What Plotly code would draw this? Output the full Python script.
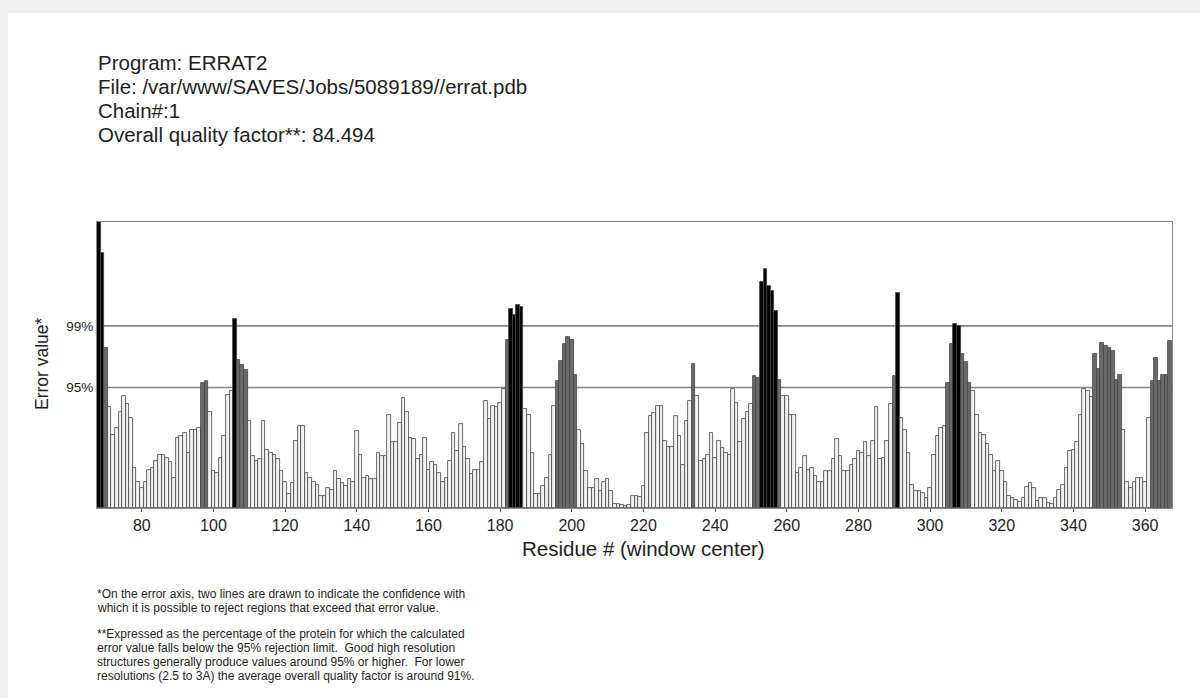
import plotly.graph_objects as go

# ---------------- data ----------------
first_residue = 68
error_values = [
    # 68-77
    27.0, 24.1, 15.1, 9.5, 6.9, 7.6, 9.1, 10.6, 9.8, 8.5,
    # 78-87
    3.8, 2.5, 1.9, 2.5, 3.6, 3.8, 4.4, 5.0, 5.0, 4.7,
    # 88-97
    4.3, 2.8, 6.6, 6.8, 7.1, 5.2, 7.4, 7.4, 7.6, 11.8,
    # 98-107
    12.0, 9.1, 3.5, 3.3, 4.7, 6.8, 10.7, 11.0, 17.8, 14.0,
    # 108-117
    13.5, 13.0, 8.2, 4.9, 4.4, 4.6, 8.2, 5.5, 5.2, 5.0,
    # 118-127
    4.6, 3.5, 2.5, 1.3, 2.4, 6.3, 7.7, 7.7, 3.3, 2.8,
    # 128-137
    2.5, 2.2, 1.1, 1.1, 1.9, 1.7, 3.5, 2.7, 2.4, 2.1,
    # 138-147
    2.7, 2.5, 7.3, 5.0, 2.8, 3.0, 2.7, 2.7, 5.2, 4.9,
    # 148-157
    4.9, 8.8, 6.2, 6.2, 8.0, 10.4, 9.1, 6.6, 6.5, 4.6,
    # 158-167
    5.0, 6.6, 3.6, 4.3, 4.1, 3.3, 2.5, 2.8, 4.4, 7.1,
    # 168-177
    5.4, 7.9, 5.8, 4.6, 3.2, 3.6, 3.6, 4.3, 10.1, 8.4,
    # 178-187
    9.6, 9.5, 9.9, 11.2, 15.9, 18.8, 18.2, 19.2, 19.0, 9.3,
    # 188-197
    8.8, 5.2, 1.3, 1.3, 2.1, 2.8, 5.0, 9.6, 12.0, 13.9,
    # 198-207
    15.5, 16.1, 15.9, 12.6, 7.4, 6.0, 3.5, 1.9, 1.9, 2.7,
    # 208-217
    1.6, 2.5, 2.7, 1.6, 0.4, 0.4, 0.3, 0.2, 0.3, 1.1,
    # 218-227
    1.1, 1.0, 2.1, 7.1, 8.7, 9.0, 9.6, 9.6, 6.3, 5.8,
    # 228-237
    5.8, 8.7, 6.8, 4.1, 8.2, 10.1, 13.6, 10.6, 4.4, 4.6,
    # 238-247
    5.0, 7.1, 4.7, 6.3, 5.7, 5.2, 5.0, 11.2, 9.9, 6.2,
    # 248-257
    8.4, 9.1, 9.8, 12.5, 12.3, 21.3, 22.6, 21.0, 20.5, 18.6,
    # 258-267
    12.1, 10.6, 10.6, 8.8, 8.8, 3.3, 3.8, 4.9, 3.6, 3.8,
    # 268-277
    3.0, 2.5, 2.5, 3.5, 3.5, 4.6, 6.5, 4.9, 3.5, 3.5,
    # 278-287
    4.1, 4.6, 5.4, 5.2, 6.2, 4.9, 6.3, 9.5, 4.6, 4.7,
    # 288-297
    6.3, 9.8, 12.5, 20.3, 8.5, 7.4, 5.2, 2.2, 1.6, 1.6,
    # 298-307
    1.4, 0.9, 1.9, 5.0, 6.8, 7.6, 7.7, 11.8, 15.5, 17.4,
    # 308-317
    17.2, 14.5, 13.8, 11.8, 11.0, 8.8, 7.1, 6.9, 6.0, 5.0,
    # 318-327
    3.5, 4.4, 3.5, 2.5, 1.1, 0.9, 0.8, 0.6, 0.9, 2.0,
    # 328-337
    2.4, 1.9, 0.7, 0.9, 0.9, 0.5, 0.4, 0.9, 1.7, 2.2,
    # 338-347
    3.8, 5.4, 5.5, 6.2, 8.8, 11.2, 11.0, 10.5, 14.5, 13.1,
    # 348-357
    15.6, 15.3, 15.1, 14.8, 12.1, 12.6, 7.4, 2.5, 1.9, 2.5,
    # 358-367
    2.8, 2.8, 2.5, 8.5, 12.0, 14.2, 12.0, 12.6, 12.6, 15.8,
]
residues = list(range(first_residue, first_residue + len(error_values)))

limit_95 = 11.38
limit_99 = 17.19
limit_labels = ["95%", "99%"]
x_tick_values = list(range(80, 361, 20))

header_lines = [
    "Program: ERRAT2",
    "File: /var/www/SAVES/Jobs/5089189//errat.pdb",
    "Chain#:1",
    "Overall quality factor**: 84.494",
]
footer_lines = [
    "*On the error axis, two lines are drawn to indicate the confidence with",
    "which it is possible to reject regions that exceed that error value.",
    "**Expressed as the percentage of the protein for which the calculated",
    "error value falls below the 95% rejection limit.  Good high resolution",
    "structures generally produce values around 95% or higher.  For lower",
    "resolutions (2.5 to 3A) the average overall quality factor is around 91%.",
]
x_title = "Residue # (window center)"
y_title = "Error value*"

# ---------------- figure ----------------
W, H = 1200, 698
L, R, T, B = 97, 1172, 222, 508   # plot area in pixels

def px_x(px):
    return (px - L) / (R - L)

def px_y(py):
    return (B - py) / (B - T)

def bar_color(v):
    if v > limit_99:
        return "#000000"
    if v > limit_95:
        return "#6a6a6a"
    return "#f2f2f2"

colors = [bar_color(v) for v in error_values]

fig = go.Figure()
fig.add_trace(go.Bar(
    x=residues, y=error_values, width=1.0,
    marker=dict(color=colors, line=dict(color="#444444", width=0.8)),
    hoverinfo="x+y",
))

FONT = "Liberation Sans, Arial, Helvetica, sans-serif"
TXT = "#1e1e1e"

shapes = [
    # page background card
    dict(type="rect", xref="paper", yref="paper",
         x0=px_x(8), x1=px_x(1205), y0=px_y(705), y1=px_y(13),
         fillcolor="white", line=dict(width=0), layer="below"),
]
for lv in (limit_95, limit_99):
    shapes.append(dict(type="line", xref="paper", yref="y",
                       x0=0, x1=1, y0=lv, y1=lv,
                       line=dict(color="#858585", width=1.6), layer="below"))

annotations = []
for i, line in enumerate(header_lines):
    annotations.append(dict(
        text=line, xref="paper", yref="paper", x=px_x(96), y=px_y(63 + i * 23.7),
        xanchor="left", yanchor="middle", showarrow=False,
        font=dict(family=FONT, size=20.5, color=TXT)))
footer_y = [594, 608, 634, 648, 662, 676]
for line, py in zip(footer_lines, footer_y):
    annotations.append(dict(
        text=line, xref="paper", yref="paper", x=px_x(95), y=px_y(py),
        xanchor="left", yanchor="middle", showarrow=False,
        font=dict(family=FONT, size=12, color=TXT)))
annotations.append(dict(
    text=x_title, xref="paper", yref="paper", x=px_x(643), y=px_y(548),
    xanchor="center", yanchor="middle", showarrow=False,
    font=dict(family=FONT, size=20.5, color=TXT)))
annotations.append(dict(
    text=y_title, xref="paper", yref="paper", x=px_x(42), y=px_y(364),
    xanchor="center", yanchor="middle", showarrow=False, textangle=-90,
    font=dict(family=FONT, size=17.5, color=TXT)))

fig.update_layout(
    width=W, height=H,
    margin=dict(l=L, r=W - R, t=T, b=H - B, pad=0),
    paper_bgcolor="#efefef", plot_bgcolor="white",
    bargap=0, showlegend=False,
    shapes=shapes, annotations=annotations,
    font=dict(family=FONT, color=TXT),
    xaxis=dict(
        range=[67.5, 367.5], tickmode="array", tickvals=x_tick_values,
        ticks="outside", ticklen=3, tickcolor="#555",
        tickfont=dict(size=16, family=FONT, color=TXT),
        showgrid=False, zeroline=False,
        showline=True, linecolor="#8a8a8a", linewidth=1, mirror=True,
    ),
    yaxis=dict(
        range=[0, 27.0], tickmode="array",
        tickvals=[limit_95, limit_99], ticktext=limit_labels,
        ticks="", tickfont=dict(size=13.5, family=FONT, color=TXT),
        showgrid=False, zeroline=False,
        showline=True, linecolor="#8a8a8a", linewidth=1, mirror=True,
    ),
)

fig.write_html("out.html")
